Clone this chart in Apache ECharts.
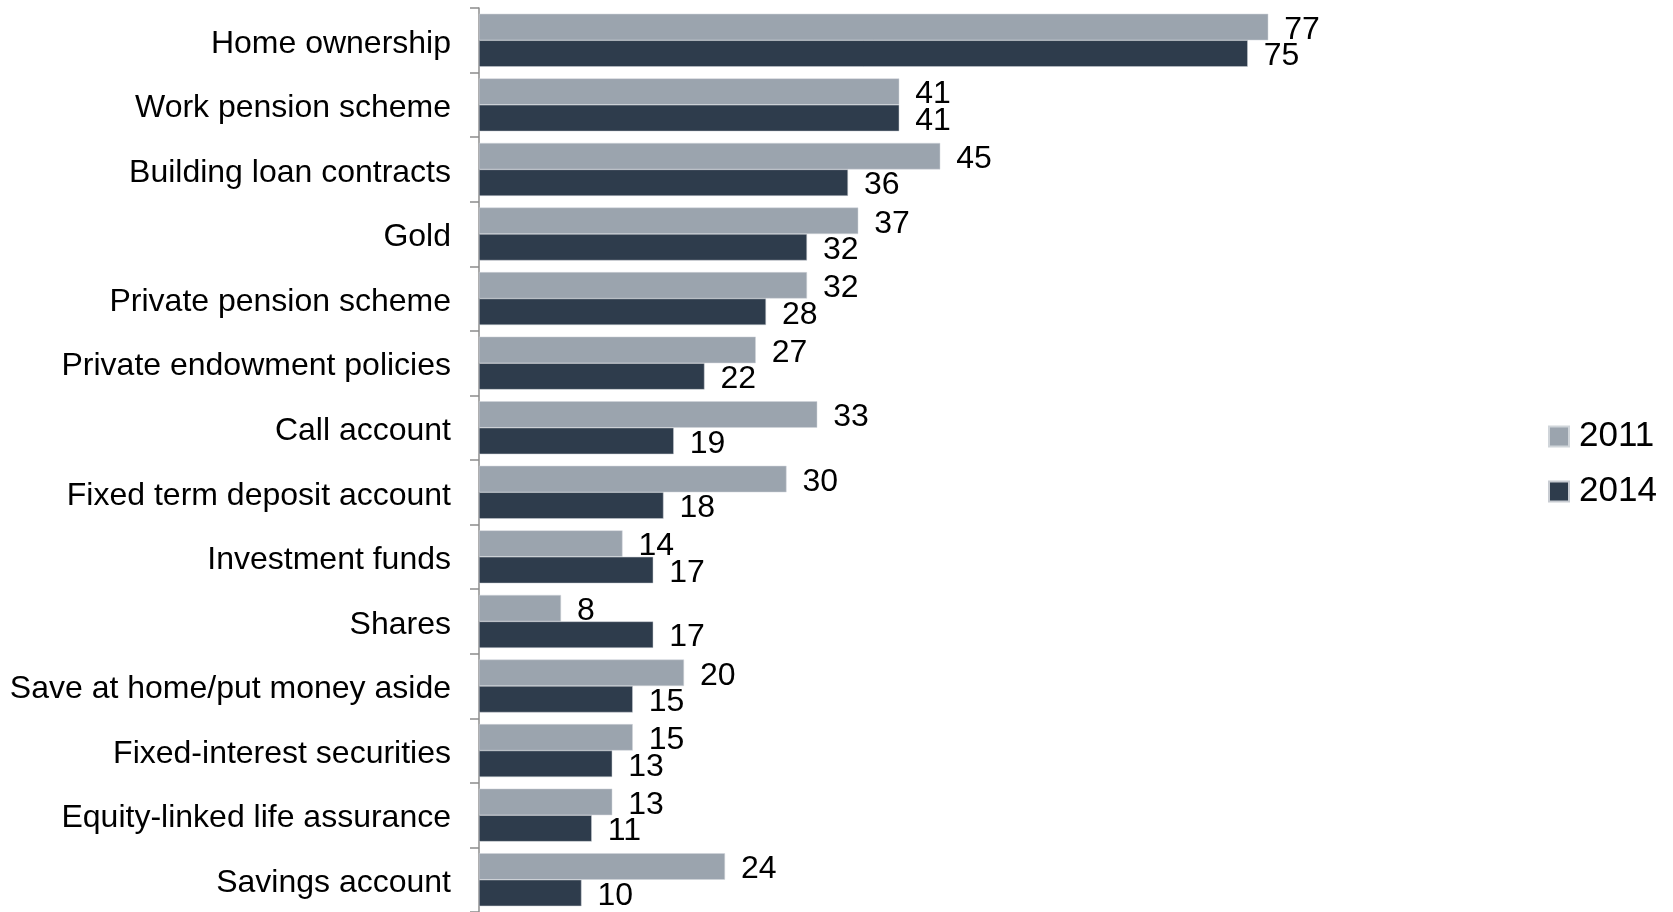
<!DOCTYPE html>
<html>
<head>
<meta charset="utf-8">
<script src="https://cdn.jsdelivr.net/npm/echarts@6/dist/echarts.min.js"></script>
<style>
  html, body { margin: 0; padding: 0; background: #fff; }
  #chart { width: 1673px; height: 912px; }
</style>
</head>
<body>
<div id="chart"></div>
<script>
var categories = ['Home ownership', 'Work pension scheme', 'Building loan contracts', 'Gold',
  'Private pension scheme', 'Private endowment policies', 'Call account', 'Fixed term deposit account',
  'Investment funds', 'Shares', 'Save at home/put money aside', 'Fixed-interest securities',
  'Equity-linked life assurance', 'Savings account'];
var values2011 = [77, 41, 45, 37, 32, 27, 33, 30, 14, 8, 20, 15, 13, 24];
var values2014 = [75, 41, 36, 32, 28, 22, 19, 18, 17, 17, 15, 13, 11, 10];

(function() {
  var myChart = echarts.init(document.getElementById('chart'));
  var font = 'Liberation Sans, Arial, sans-serif';

  var labelStyle = {
    show: true,
    position: 'right',
    distance: 16,
    offset: [0, 3],
    fontSize: 32,
    fontFamily: font,
    color: '#000'
  };

  var option = {
    animation: false,
    textStyle: { fontFamily: font },
    grid: {
      left: 479,
      top: 8,
      width: 1025,
      height: 914
    },
    legend: {
      orient: 'vertical',
      left: 1543,
      top: 414,
      itemWidth: 20,
      itemHeight: 20,
      itemGap: 20,
      icon: 'rect',
      textStyle: { fontSize: 35, color: '#000', padding: [0, 0, 0, 5] },
      data: ['2011', '2014']
    },
    xAxis: {
      type: 'value',
      min: 0,
      max: 100,
      show: false
    },
    yAxis: {
      type: 'category',
      inverse: true,
      data: categories,
      axisLine: { show: true, lineStyle: { color: '#8c8c8c', width: 1.5 } },
      axisTick: { show: true, length: 9, lineStyle: { color: '#8c8c8c', width: 1.5 } },
      axisLabel: {
        fontSize: 32, color: '#000', margin: 28, fontFamily: font,
        verticalAlign: 'top', lineHeight: 7
      }
    },
    series: [
      {
        name: '2011',
        type: 'bar',
        data: values2011,
        barGap: '0%',
        barCategoryGap: '18%',
        itemStyle: { color: '#9ba4ae', borderColor: '#d0d5da', borderWidth: 0.5 },
        label: labelStyle
      },
      {
        name: '2014',
        type: 'bar',
        data: values2014,
        itemStyle: { color: '#2e3c4c', borderColor: '#c8ccd2', borderWidth: 0.5 },
        label: labelStyle
      }
    ]
  };
  myChart.setOption(option);
})();
</script>
</body>
</html>
